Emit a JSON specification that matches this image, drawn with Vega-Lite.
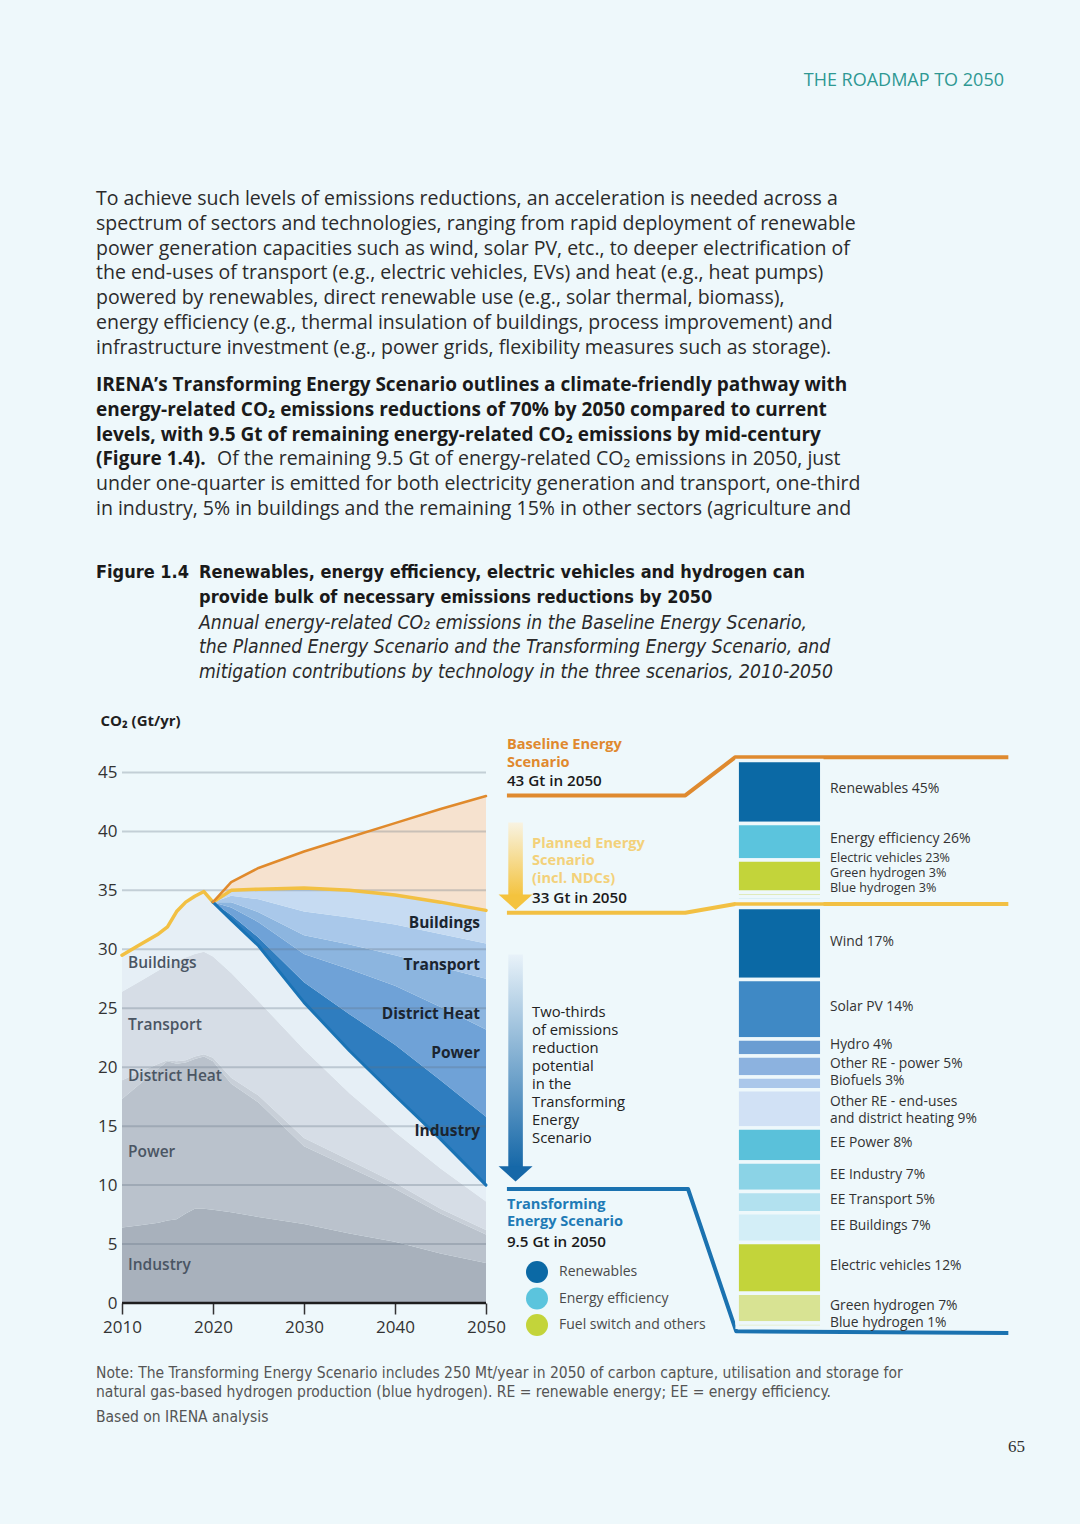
{
  "$schema": "https://vega.github.io/schema/vega-lite/v6.json",
  "width": 1080,
  "height": 1524,
  "autosize": {"type": "fit", "contains": "padding"},
  "padding": 0,
  "background": "#eef8fb",
  "config": {"view": {"stroke": null}, "font": "Open Sans", "axis": {"labelFont": "Open Sans", "titleFont": "Open Sans"}},
  "datasets": {
    "emis": [
      {"year":2010,"ind":6.4,"pow":10.9,"dh":1.6,"tra":7.5,"bld":3.1,"rind":0,"rpow":0,"rdh":0,"rtra":0,"rbld":0,"gap":0},
      {"year":2012,"ind":6.6,"pow":12.0,"dh":1.0,"tra":7.7,"bld":3.1,"rind":0,"rpow":0,"rdh":0,"rtra":0,"rbld":0,"gap":0},
      {"year":2014,"ind":6.8,"pow":13.1,"dh":0.4,"tra":7.9,"bld":3.1,"rind":0,"rpow":0,"rdh":0,"rtra":0,"rbld":0,"gap":0},
      {"year":2015,"ind":7.0,"pow":13.5,"dh":0.1,"tra":8.0,"bld":3.3,"rind":0,"rpow":0,"rdh":0,"rtra":0,"rbld":0,"gap":0},
      {"year":2016,"ind":7.1,"pow":13.2,"dh":0.2,"tra":8.5,"bld":4.2,"rind":0,"rpow":0,"rdh":0,"rtra":0,"rbld":0,"gap":0},
      {"year":2017,"ind":7.6,"pow":12.8,"dh":0.2,"tra":8.7,"bld":4.7,"rind":0,"rpow":0,"rdh":0,"rtra":0,"rbld":0,"gap":0},
      {"year":2018,"ind":8.0,"pow":12.7,"dh":0.2,"tra":8.7,"bld":4.9,"rind":0,"rpow":0,"rdh":0,"rtra":0,"rbld":0,"gap":0},
      {"year":2019,"ind":8.0,"pow":12.9,"dh":0.2,"tra":8.7,"bld":5.1,"rind":0,"rpow":0,"rdh":0,"rtra":0,"rbld":0,"gap":0},
      {"year":2020,"ind":7.9,"pow":12.6,"dh":0.3,"tra":8.6,"bld":4.6,"rind":0,"rpow":0,"rdh":0,"rtra":0,"rbld":0,"gap":0},
      {"year":2022,"ind":7.7,"pow":10.9,"dh":0.5,"tra":8.9,"bld":4.5,"rind":0.4,"rpow":0.65,"rdh":0.45,"rtra":0.55,"rbld":0.45,"gap":0.7},
      {"year":2025,"ind":7.3,"pow":9.7,"dh":0.6,"tra":8.0,"bld":4.7,"rind":0.7,"rpow":1.3,"rdh":0.85,"rtra":1.1,"rbld":0.85,"gap":1.8},
      {"year":2030,"ind":6.7,"pow":6.6,"dh":0.7,"tra":7.5,"bld":4.0,"rind":1.7,"rpow":2.4,"rdh":1.6,"rtra":2.0,"rbld":2.0,"gap":3.1},
      {"year":2035,"ind":5.9,"pow":5.6,"dh":0.6,"tra":5.7,"bld":3.6,"rind":3.1,"rpow":3.8,"rdh":2.1,"rtra":2.3,"rbld":2.3,"gap":4.5},
      {"year":2040,"ind":5.2,"pow":4.5,"dh":0.5,"tra":4.3,"bld":3.1,"rind":4.3,"rpow":5.0,"rdh":2.6,"rtra":2.6,"rbld":2.5,"gap":6.1},
      {"year":2045,"ind":4.2,"pow":3.4,"dh":0.4,"tra":3.4,"bld":2.5,"rind":5.0,"rpow":6.2,"rdh":3.4,"rtra":2.8,"rbld":2.7,"gap":7.9},
      {"year":2050,"ind":3.4,"pow":2.4,"dh":0.4,"tra":2.4,"bld":1.4,"rind":5.8,"rpow":7.4,"rdh":4.3,"rtra":3.0,"rbld":2.8,"gap":9.7}
    ],
    "lines": [
      {"s":"Planned","year":2010,"v":29.5},{"s":"Planned","year":2012,"v":30.4},{"s":"Planned","year":2014,"v":31.3},
      {"s":"Planned","year":2015,"v":31.9},{"s":"Planned","year":2016,"v":33.2},{"s":"Planned","year":2017,"v":34.0},
      {"s":"Planned","year":2018,"v":34.5},{"s":"Planned","year":2019,"v":34.9},{"s":"Planned","year":2020,"v":34.0},
      {"s":"Planned","year":2022,"v":35.0},{"s":"Planned","year":2025,"v":35.1},{"s":"Planned","year":2030,"v":35.2},
      {"s":"Planned","year":2035,"v":35.0},{"s":"Planned","year":2040,"v":34.6},{"s":"Planned","year":2045,"v":34.0},
      {"s":"Planned","year":2050,"v":33.3},
      {"s":"TES","year":2020,"v":34.0},{"s":"TES","year":2022,"v":32.5},{"s":"TES","year":2025,"v":30.3},
      {"s":"TES","year":2030,"v":25.5},{"s":"TES","year":2035,"v":21.4},{"s":"TES","year":2040,"v":17.6},
      {"s":"TES","year":2045,"v":13.9},{"s":"TES","year":2050,"v":10.0},
      {"s":"Baseline","year":2020,"v":34.0},{"s":"Baseline","year":2022,"v":35.7},{"s":"Baseline","year":2025,"v":36.9},
      {"s":"Baseline","year":2030,"v":38.3},{"s":"Baseline","year":2035,"v":39.5},{"s":"Baseline","year":2040,"v":40.7},
      {"s":"Baseline","year":2045,"v":41.9},{"s":"Baseline","year":2050,"v":43.0}
    ],
    "conn": [
      {"s":"Baseline","x":2052.3,"v":43.05},{"s":"Baseline","x":2071.9,"v":43.05},{"s":"Baseline","x":2077.4,"v":46.3},{"s":"Baseline","x":2107.4,"v":46.3},
      {"s":"Planned","x":2052.3,"v":33.1},{"s":"Planned","x":2071.9,"v":33.1},{"s":"Planned","x":2077.4,"v":33.85},{"s":"Planned","x":2107.4,"v":33.85},
      {"s":"TES","x":2052.3,"v":9.67},{"s":"TES","x":2072.2,"v":9.67},{"s":"TES","x":2077.5,"v":-2.4},{"s":"TES","x":2107.4,"v":-2.54}
    ],
    "grid": [{"g":5},{"g":10},{"g":15},{"g":20},{"g":25},{"g":30},{"g":35},{"g":40},{"g":45}],
    "arrows": [
      {"a":"Planned","x0":2052.45,"x1":2054.05,"top":40.75,"bot":34.5,"hx":2053.25,"hy":34.0},
      {"a":"TES","x0":2052.45,"x1":2054.05,"top":29.55,"bot":11.5,"hx":2053.25,"hy":10.95}
    ],
    "ann": [
      {"k":"name","s":"Baseline","t":["Baseline Energy","Scenario"],"x":2052.3,"v":47.35},
      {"k":"val","s":"Baseline","t":"43 Gt in 2050","x":2052.3,"v":44.26},
      {"k":"name","s":"Planned","t":["Planned Energy","Scenario","(incl. NDCs)"],"x":2055.06,"v":38.96},
      {"k":"val","s":"Planned","t":"33 Gt in 2050","x":2055.06,"v":34.33},
      {"k":"note","s":"TES","t":["Two-thirds","of emissions","reduction","potential","in the","Transforming","Energy","Scenario"],"x":2055.06,"v":24.62},
      {"k":"name","s":"TES","t":["Transforming","Energy Scenario"],"x":2052.3,"v":8.34},
      {"k":"val","s":"TES","t":"9.5 Gt in 2050","x":2052.3,"v":5.2}
    ],
    "alab": [
      {"side":"L","t":"Buildings","x":2010.66,"v":28.86},
      {"side":"L","t":"Transport","x":2010.66,"v":23.6},
      {"side":"L","t":"District Heat","x":2010.66,"v":19.28},
      {"side":"L","t":"Power","x":2010.66,"v":12.83},
      {"side":"L","t":"Industry","x":2010.66,"v":3.25},
      {"side":"R","t":"Buildings","x":2049.34,"v":32.26},
      {"side":"R","t":"Transport","x":2049.34,"v":28.69},
      {"side":"R","t":"District Heat","x":2049.34,"v":24.54},
      {"side":"R","t":"Power","x":2049.34,"v":21.23},
      {"side":"R","t":"Industry","x":2049.34,"v":14.61}
    ],
    "bars": [
      {"g":1,"name":"Renewables","pct":45,"lab":"Renewables 45%"},
      {"g":1,"name":"Energy efficiency","pct":26,"lab":"Energy efficiency 26%"},
      {"g":1,"name":"Electric vehicles","pct":23,"lab":"Electric vehicles 23%"},
      {"g":1,"name":"Green hydrogen","pct":3,"lab":"Green hydrogen 3%"},
      {"g":1,"name":"Blue hydrogen","pct":3,"lab":"Blue hydrogen 3%"},
      {"g":2,"name":"Wind","pct":17,"lab":"Wind 17%"},
      {"g":2,"name":"Solar PV","pct":14,"lab":"Solar PV 14%"},
      {"g":2,"name":"Hydro","pct":4,"lab":"Hydro 4%"},
      {"g":2,"name":"Other RE - power","pct":5,"lab":"Other RE - power 5%"},
      {"g":2,"name":"Biofuels","pct":3,"lab":"Biofuels 3%"},
      {"g":2,"name":"Other RE - end-uses and district heating","pct":9,"lab":["Other RE - end-uses","and district heating 9%"]},
      {"g":2,"name":"EE Power","pct":8,"lab":"EE Power 8%"},
      {"g":2,"name":"EE Industry","pct":7,"lab":"EE Industry 7%"},
      {"g":2,"name":"EE Transport","pct":5,"lab":"EE Transport 5%"},
      {"g":2,"name":"EE Buildings","pct":7,"lab":"EE Buildings 7%"},
      {"g":2,"name":"Electric vehicles","pct":12,"lab":"Electric vehicles 12%"},
      {"g":2,"name":"Green hydrogen","pct":7,"lab":"Green  hydrogen 7%"},
      {"g":2,"name":"Blue hydrogen","pct":1,"lab":"Blue hydrogen 1%"}
    ],
    "cats": [{"cat":"Renewables"},{"cat":"Energy efficiency"},{"cat":"Fuel switch and others"}],
    "txt": [
      {"b":"hdr","ln":-4.76,"t":"THE ROADMAP TO 2050"},
      {"b":"p","ln":0,"t":"To achieve such levels of emissions reductions, an acceleration is needed across a"},
      {"b":"p","ln":1,"t":"spectrum of sectors and technologies, ranging from rapid deployment of renewable"},
      {"b":"p","ln":2,"t":"power generation capacities such as wind, solar PV, etc., to deeper electrification of"},
      {"b":"p","ln":3,"t":"the end-uses of transport (e.g., electric vehicles, EVs) and heat (e.g., heat pumps)"},
      {"b":"p","ln":4,"t":"powered by renewables, direct renewable use (e.g., solar thermal, biomass),"},
      {"b":"p","ln":5,"t":"energy efficiency (e.g., thermal insulation of buildings, process improvement) and"},
      {"b":"p","ln":6,"t":"infrastructure investment (e.g., power grids, flexibility measures such as storage)."},
      {"b":"pb","ln":7.5,"t":"IRENA’s Transforming Energy Scenario outlines a climate-friendly pathway with"},
      {"b":"pb","ln":8.5,"t":"energy-related CO₂ emissions reductions of 70% by 2050 compared to current"},
      {"b":"pb","ln":9.5,"t":"levels, with 9.5 Gt of remaining energy-related CO₂ emissions by mid-century"},
      {"b":"pb","ln":10.5,"t":"(Figure 1.4)."},
      {"b":"pi","ln":10.5,"t":"Of the remaining 9.5 Gt of energy-related CO₂ emissions in 2050, just"},
      {"b":"p","ln":11.5,"t":"under one-quarter is emitted for both electricity generation and transport, one-third"},
      {"b":"p","ln":12.5,"t":"in industry, 5% in buildings and the remaining 15% in other sectors (agriculture and"},
      {"b":"fl","ln":15.08,"t":"Figure 1.4"},
      {"b":"ft","ln":15.08,"t":"Renewables, energy efficiency, electric vehicles and hydrogen can"},
      {"b":"ft","ln":16.09,"t":"provide bulk of necessary emissions reductions by 2050"},
      {"b":"fs","ln":17.1,"t":"Annual energy-related CO₂ emissions in the Baseline Energy Scenario,"},
      {"b":"fs","ln":18.06,"t":"the Planned Energy Scenario and the Transforming Energy Scenario, and"},
      {"b":"fs","ln":19.07,"t":"mitigation contributions by technology in the three scenarios, 2010-2050"},
      {"b":"n","ln":47.34,"t":"Note: The Transforming Energy Scenario includes 250 Mt/year in 2050 of carbon capture, utilisation and storage for"},
      {"b":"n","ln":48.1,"t":"natural gas-based hydrogen production (blue hydrogen). RE = renewable energy; EE = energy efficiency."},
      {"b":"n","ln":49.1,"t":"Based on IRENA analysis"},
      {"b":"pg","ln":50.32,"t":"65"}
    ]
  },
  "layer": [
    {
      "data": {"name": "txt"},
      "transform": [{"filter": "datum.b == 'hdr'"}],
      "mark": {"type": "text", "align": "right", "baseline": "middle", "font": "Open Sans", "fontSize": 18, "letterSpacing": 1, "color": "#2f9893"},
      "encoding": {
        "x": {"datum": 92.96, "type": "quantitative", "scale": {"domain": [0, 100], "nice": false, "zero": false}, "axis": null},
        "y": {"field": "ln", "type": "quantitative", "scale": {"domain": [-8.024, 53.428], "reverse": true, "nice": false, "zero": false}, "axis": null},
        "text": {"field": "t"}
      }
    },
    {
      "data": {"name": "txt"},
      "transform": [{"filter": "datum.b == 'p'"}],
      "mark": {"type": "text", "align": "left", "baseline": "middle", "font": "Open Sans", "fontSize": 19.5, "color": "#2b2b2b"},
      "encoding": {
        "x": {"datum": 8.889, "type": "quantitative", "scale": {"domain": [0, 100], "nice": false, "zero": false}, "axis": null},
        "y": {"field": "ln", "type": "quantitative", "scale": {"domain": [-8.024, 53.428], "reverse": true, "nice": false, "zero": false}, "axis": null},
        "text": {"field": "t"}
      }
    },
    {
      "data": {"name": "txt"},
      "transform": [{"filter": "datum.b == 'pb'"}],
      "mark": {"type": "text", "align": "left", "baseline": "middle", "font": "Open Sans", "fontWeight": "bold", "fontSize": 19, "color": "#1a1a1a"},
      "encoding": {
        "x": {"datum": 8.889, "type": "quantitative", "scale": {"domain": [0, 100], "nice": false, "zero": false}, "axis": null},
        "y": {"field": "ln", "type": "quantitative", "scale": {"domain": [-8.024, 53.428], "reverse": true, "nice": false, "zero": false}, "axis": null},
        "text": {"field": "t"}
      }
    },
    {
      "data": {"name": "txt"},
      "transform": [{"filter": "datum.b == 'pi'"}],
      "mark": {"type": "text", "align": "left", "baseline": "middle", "font": "Open Sans", "fontSize": 19.5, "color": "#2b2b2b"},
      "encoding": {
        "x": {"datum": 20.09, "type": "quantitative", "scale": {"domain": [0, 100], "nice": false, "zero": false}, "axis": null},
        "y": {"field": "ln", "type": "quantitative", "scale": {"domain": [-8.024, 53.428], "reverse": true, "nice": false, "zero": false}, "axis": null},
        "text": {"field": "t"}
      }
    },
    {
      "data": {"name": "txt"},
      "transform": [{"filter": "datum.b == 'fl'"}],
      "mark": {"type": "text", "align": "left", "baseline": "middle", "font": "Liberation Sans Narrow, DejaVu Sans Condensed, Roboto", "fontWeight": "bold", "fontSize": 18, "color": "#1a1a1a"},
      "encoding": {
        "x": {"datum": 8.889, "type": "quantitative", "scale": {"domain": [0, 100], "nice": false, "zero": false}, "axis": null},
        "y": {"field": "ln", "type": "quantitative", "scale": {"domain": [-8.024, 53.428], "reverse": true, "nice": false, "zero": false}, "axis": null},
        "text": {"field": "t"}
      }
    },
    {
      "data": {"name": "txt"},
      "transform": [{"filter": "datum.b == 'ft'"}],
      "mark": {"type": "text", "align": "left", "baseline": "middle", "font": "Liberation Sans Narrow, DejaVu Sans Condensed, Roboto", "fontWeight": "bold", "fontSize": 18, "color": "#1a1a1a"},
      "encoding": {
        "x": {"datum": 18.43, "type": "quantitative", "scale": {"domain": [0, 100], "nice": false, "zero": false}, "axis": null},
        "y": {"field": "ln", "type": "quantitative", "scale": {"domain": [-8.024, 53.428], "reverse": true, "nice": false, "zero": false}, "axis": null},
        "text": {"field": "t"}
      }
    },
    {
      "data": {"name": "txt"},
      "transform": [{"filter": "datum.b == 'fs'"}],
      "mark": {"type": "text", "align": "left", "baseline": "middle", "font": "Liberation Sans Narrow, DejaVu Sans Condensed, Roboto", "fontStyle": "italic", "fontSize": 19.2, "color": "#2a2a2a"},
      "encoding": {
        "x": {"datum": 18.43, "type": "quantitative", "scale": {"domain": [0, 100], "nice": false, "zero": false}, "axis": null},
        "y": {"field": "ln", "type": "quantitative", "scale": {"domain": [-8.024, 53.428], "reverse": true, "nice": false, "zero": false}, "axis": null},
        "text": {"field": "t"}
      }
    },
    {
      "data": {"name": "txt"},
      "transform": [{"filter": "datum.b == 'n'"}],
      "mark": {"type": "text", "align": "left", "baseline": "middle", "font": "Liberation Sans Narrow, DejaVu Sans Condensed, Roboto", "fontSize": 15.5, "color": "#555555"},
      "encoding": {
        "x": {"datum": 8.889, "type": "quantitative", "scale": {"domain": [0, 100], "nice": false, "zero": false}, "axis": null},
        "y": {"field": "ln", "type": "quantitative", "scale": {"domain": [-8.024, 53.428], "reverse": true, "nice": false, "zero": false}, "axis": null},
        "text": {"field": "t"}
      }
    },
    {
      "data": {"name": "txt"},
      "transform": [{"filter": "datum.b == 'pg'"}],
      "mark": {"type": "text", "align": "right", "baseline": "middle", "font": "Liberation Serif", "fontSize": 17, "color": "#333333"},
      "encoding": {
        "x": {"datum": 94.9, "type": "quantitative", "scale": {"domain": [0, 100], "nice": false, "zero": false}, "axis": null},
        "y": {"field": "ln", "type": "quantitative", "scale": {"domain": [-8.024, 53.428], "reverse": true, "nice": false, "zero": false}, "axis": null},
        "text": {"field": "t"}
      }
    },
    {
      "data": {"name": "emis"},
      "transform": [
        {"fold": ["ind","pow","dh","tra","bld","rind","rpow","rdh","rtra","rbld","gap"], "as": ["key","val"]},
        {"window": [{"op": "row_number", "as": "rank"}], "groupby": ["year"]},
        {"stack": "val", "groupby": ["year"], "sort": [{"field": "rank", "order": "ascending"}], "as": ["v0","v1"]}
      ],
      "mark": {"type": "area", "interpolate": "linear"},
      "encoding": {
        "x": {"field": "year", "type": "quantitative", "scale": {"domain": [1996.593, 2115.275], "nice": false, "zero": false}, "axis": null},
        "y": {"field": "v1", "type": "quantitative", "scale": {"domain": [-18.745, 110.52], "nice": false, "zero": false}, "axis": null},
        "y2": {"field": "v0"},
        "color": {"field": "key", "type": "nominal", "legend": null,
          "scale": {"domain": ["ind","pow","dh","tra","bld","rind","rpow","rdh","rtra","rbld","gap"],
                    "range": ["#a8b1bc","#bac2cc","#c8cfd8","#d6dde6","#e6eff6","#2f7dbf","#6fa2d7","#8cb5df","#a9c8ea","#c6dbf2","#f6e2cf"]}}
      }
    },
    {
      "data": {"name": "grid"},
      "mark": {"type": "rule", "stroke": "#5f7282", "strokeOpacity": 0.3, "strokeWidth": 2},
      "encoding": {
        "x": {"datum": 2010, "type": "quantitative", "scale": {"domain": [1996.593, 2115.275], "nice": false, "zero": false}, "axis": null},
        "x2": {"datum": 2050},
        "y": {"field": "g", "type": "quantitative", "scale": {"domain": [-18.745, 110.52], "nice": false, "zero": false}, "axis": null}
      }
    },
    {
      "data": {"values": [{"g": 0}]},
      "mark": {"type": "rule", "stroke": "#1e1e1e", "strokeWidth": 2.5},
      "encoding": {
        "x": {"datum": 2010, "type": "quantitative", "scale": {"domain": [1996.593, 2115.275], "nice": false, "zero": false}, "axis": null},
        "x2": {"datum": 2050},
        "y": {"field": "g", "type": "quantitative", "scale": {"domain": [-18.745, 110.52], "nice": false, "zero": false}, "axis": null}
      }
    },
    {
      "data": {"name": "lines"},
      "mark": {"type": "line", "strokeJoin": "round", "strokeCap": "round"},
      "encoding": {
        "x": {"field": "year", "type": "quantitative", "scale": {"domain": [1996.593, 2115.275], "nice": false, "zero": false},
          "axis": {"orient": "bottom", "offset": -221, "values": [2010, 2020, 2030, 2040, 2050], "format": "d", "domain": false, "grid": false,
                   "ticks": true, "tickSize": 11, "tickColor": "#333333", "tickWidth": 1.5, "labelFontSize": 17, "labelColor": "#333333",
                   "labelPadding": 5, "title": null}},
        "y": {"field": "v", "type": "quantitative", "scale": {"domain": [-18.745, 110.52], "nice": false, "zero": false},
          "axis": {"orient": "left", "offset": -122, "values": [0, 5, 10, 15, 20, 25, 30, 35, 40, 45], "domain": false, "ticks": false, "grid": false,
                   "labelFontSize": 17, "labelColor": "#333333", "labelPadding": 5,
                   "title": "CO₂ (Gt/yr)", "titleAngle": 0, "titleAlign": "left", "titleBaseline": "middle", "titleX": -22, "titleY": 720,
                   "titleFontSize": 15, "titleFontWeight": "bold", "titleColor": "#1f1f1f"}},
        "color": {"field": "s", "type": "nominal", "legend": null, "scale": {"domain": ["Planned","TES","Baseline"], "range": ["#f2c043","#1a73b5","#e08a2c"]}},
        "strokeWidth": {"field": "s", "type": "nominal", "legend": null, "scale": {"domain": ["Planned","TES","Baseline"], "range": [3.5, 2.5, 4]}}
      }
    },
    {
      "data": {"name": "conn"},
      "mark": {"type": "line", "strokeWidth": 4, "strokeJoin": "round", "strokeCap": "butt"},
      "encoding": {
        "x": {"field": "x", "type": "quantitative", "scale": {"domain": [1996.593, 2115.275], "nice": false, "zero": false}, "axis": null},
        "y": {"field": "v", "type": "quantitative", "scale": {"domain": [-18.745, 110.52], "nice": false, "zero": false}, "axis": null},
        "color": {"field": "s", "type": "nominal", "legend": null, "scale": {"domain": ["Planned","TES","Baseline"], "range": ["#f2c043","#1a72b0","#df8a2f"]}}
      }
    },
    {
      "data": {"name": "arrows"},
      "transform": [{"filter": "datum.a == 'Planned'"}],
      "mark": {"type": "rect", "fill": {"gradient": "linear", "x1": 0, "y1": 0, "x2": 0, "y2": 1, "stops": [{"offset": 0, "color": "#f8f3e2"}, {"offset": 1, "color": "#f4c33e"}]}},
      "encoding": {
        "x": {"field": "x0", "type": "quantitative", "scale": {"domain": [1996.593, 2115.275], "nice": false, "zero": false}, "axis": null},
        "x2": {"field": "x1"},
        "y": {"field": "top", "type": "quantitative", "scale": {"domain": [-18.745, 110.52], "nice": false, "zero": false}, "axis": null},
        "y2": {"field": "bot"}
      }
    },
    {
      "data": {"name": "arrows"},
      "transform": [{"filter": "datum.a == 'TES'"}],
      "mark": {"type": "rect", "fill": {"gradient": "linear", "x1": 0, "y1": 0, "x2": 0, "y2": 1, "stops": [{"offset": 0, "color": "#e8f2f9"}, {"offset": 1, "color": "#1668a8"}]}},
      "encoding": {
        "x": {"field": "x0", "type": "quantitative", "scale": {"domain": [1996.593, 2115.275], "nice": false, "zero": false}, "axis": null},
        "x2": {"field": "x1"},
        "y": {"field": "top", "type": "quantitative", "scale": {"domain": [-18.745, 110.52], "nice": false, "zero": false}, "axis": null},
        "y2": {"field": "bot"}
      }
    },
    {
      "data": {"name": "arrows"},
      "mark": {"type": "point", "shape": "M-1,-0.45L1,-0.45L0,0.45Z", "size": 1156, "filled": true, "opacity": 1, "strokeWidth": 0},
      "encoding": {
        "x": {"field": "hx", "type": "quantitative", "scale": {"domain": [1996.593, 2115.275], "nice": false, "zero": false}, "axis": null},
        "y": {"field": "hy", "type": "quantitative", "scale": {"domain": [-18.745, 110.52], "nice": false, "zero": false}, "axis": null},
        "color": {"field": "a", "type": "nominal", "legend": null, "scale": {"domain": ["Planned","TES"], "range": ["#f4c33e","#1668a8"]}}
      }
    },
    {
      "data": {"name": "ann"},
      "transform": [{"filter": "datum.k == 'name'"}],
      "mark": {"type": "text", "align": "left", "baseline": "middle", "font": "Open Sans", "fontWeight": "bold", "fontSize": 14.6, "lineHeight": 17.8},
      "encoding": {
        "x": {"field": "x", "type": "quantitative", "scale": {"domain": [1996.593, 2115.275], "nice": false, "zero": false}, "axis": null},
        "y": {"field": "v", "type": "quantitative", "scale": {"domain": [-18.745, 110.52], "nice": false, "zero": false}, "axis": null},
        "text": {"field": "t"},
        "color": {"field": "s", "type": "nominal", "legend": null, "scale": {"domain": ["Baseline","Planned","TES"], "range": ["#e0892e","#f3d17a","#1f7bb6"]}}
      }
    },
    {
      "data": {"name": "ann"},
      "transform": [{"filter": "datum.k == 'val'"}],
      "mark": {"type": "text", "align": "left", "baseline": "middle", "font": "Open Sans", "fontWeight": 600, "fontSize": 15.2, "color": "#1a1a1a"},
      "encoding": {
        "x": {"field": "x", "type": "quantitative", "scale": {"domain": [1996.593, 2115.275], "nice": false, "zero": false}, "axis": null},
        "y": {"field": "v", "type": "quantitative", "scale": {"domain": [-18.745, 110.52], "nice": false, "zero": false}, "axis": null},
        "text": {"field": "t"}
      }
    },
    {
      "data": {"name": "ann"},
      "transform": [{"filter": "datum.k == 'note'"}],
      "mark": {"type": "text", "align": "left", "baseline": "middle", "font": "Open Sans", "fontSize": 14.8, "lineHeight": 18, "color": "#222222"},
      "encoding": {
        "x": {"field": "x", "type": "quantitative", "scale": {"domain": [1996.593, 2115.275], "nice": false, "zero": false}, "axis": null},
        "y": {"field": "v", "type": "quantitative", "scale": {"domain": [-18.745, 110.52], "nice": false, "zero": false}, "axis": null},
        "text": {"field": "t"}
      }
    },
    {
      "data": {"name": "alab"},
      "transform": [{"filter": "datum.side == 'L'"}],
      "mark": {"type": "text", "align": "left", "baseline": "middle", "font": "Open Sans", "fontWeight": 600, "fontSize": 15.5, "color": "#4a5563"},
      "encoding": {
        "x": {"field": "x", "type": "quantitative", "scale": {"domain": [1996.593, 2115.275], "nice": false, "zero": false}, "axis": null},
        "y": {"field": "v", "type": "quantitative", "scale": {"domain": [-18.745, 110.52], "nice": false, "zero": false}, "axis": null},
        "text": {"field": "t"}
      }
    },
    {
      "data": {"name": "alab"},
      "transform": [{"filter": "datum.side == 'R'"}],
      "mark": {"type": "text", "align": "right", "baseline": "middle", "font": "Open Sans", "fontWeight": "bold", "fontSize": 15.5, "color": "#1b2530"},
      "encoding": {
        "x": {"field": "x", "type": "quantitative", "scale": {"domain": [1996.593, 2115.275], "nice": false, "zero": false}, "axis": null},
        "y": {"field": "v", "type": "quantitative", "scale": {"domain": [-18.745, 110.52], "nice": false, "zero": false}, "axis": null},
        "text": {"field": "t"}
      }
    },
    {
      "data": {"name": "bars"},
      "transform": [
        {"filter": "datum.g == 1"},
        {"window": [{"op": "row_number", "as": "i"}]},
        {"stack": "pct", "groupby": ["g"], "sort": [{"field": "i", "order": "ascending"}], "as": ["s0","s1"]}
      ],
      "mark": {"type": "rect", "stroke": "#eef8fb", "strokeWidth": 3.5},
      "encoding": {
        "x": {"datum": 2077.6, "type": "quantitative", "scale": {"domain": [1996.593, 2115.275], "nice": false, "zero": false}, "axis": null},
        "x2": {"datum": 2086.9},
        "y": {"field": "s0", "type": "quantitative", "scale": {"domain": [-543.286, 545.286], "reverse": true, "nice": false, "zero": false}, "axis": null},
        "y2": {"field": "s1"},
        "color": {"field": "name", "type": "nominal", "legend": null,
          "scale": {"domain": ["Renewables","Energy efficiency","Electric vehicles","Green hydrogen","Blue hydrogen"],
                    "range": ["#0b69a5","#5bc4dd","#c3d43a","#d5e08a","#c9e6ee"]}}
      }
    },
    {
      "data": {"name": "bars"},
      "transform": [
        {"filter": "datum.g == 1"},
        {"window": [{"op": "row_number", "as": "i"}]},
        {"stack": "pct", "groupby": ["g"], "sort": [{"field": "i", "order": "ascending"}], "as": ["s0","s1"]},
        {"filter": "datum.i <= 2"},
        {"fold": ["s0","s1"], "as": ["k","sv"]},
        {"joinaggregate": [{"op": "mean", "field": "sv", "as": "mid"}], "groupby": ["name"]},
        {"filter": "datum.k == 's0'"}
      ],
      "mark": {"type": "text", "align": "left", "baseline": "middle", "font": "Open Sans", "fontSize": 14, "color": "#333333", "dy": -3},
      "encoding": {
        "x": {"datum": 2087.8, "type": "quantitative", "scale": {"domain": [1996.593, 2115.275], "nice": false, "zero": false}, "axis": null},
        "y": {"field": "mid", "type": "quantitative", "scale": {"domain": [-543.286, 545.286], "reverse": true, "nice": false, "zero": false}, "axis": null},
        "text": {"field": "lab"}
      }
    },
    {
      "data": {"name": "bars"},
      "transform": [
        {"filter": "datum.g == 1"},
        {"window": [{"op": "row_number", "as": "i"}]},
        {"filter": "datum.i >= 3"}
      ],
      "mark": {"type": "text", "align": "left", "baseline": "middle", "font": "Open Sans", "fontSize": 12.6, "color": "#333333"},
      "encoding": {
        "x": {"datum": 2087.8, "type": "quantitative", "scale": {"domain": [1996.593, 2115.275], "nice": false, "zero": false}, "axis": null},
        "y": {"field": "i", "type": "quantitative", "scale": {"domain": [-54.2, 47.4], "reverse": true, "nice": false, "zero": false}, "axis": null},
        "text": {"field": "lab"}
      }
    },
    {
      "data": {"name": "bars"},
      "transform": [
        {"filter": "datum.g == 2"},
        {"window": [{"op": "row_number", "as": "i"}]},
        {"stack": "pct", "groupby": ["g"], "sort": [{"field": "i", "order": "ascending"}], "as": ["s0","s1"]}
      ],
      "mark": {"type": "rect", "stroke": "#eef8fb", "strokeWidth": 3.5},
      "encoding": {
        "x": {"datum": 2077.6, "type": "quantitative", "scale": {"domain": [1996.593, 2115.275], "nice": false, "zero": false}, "axis": null},
        "x2": {"datum": 2086.9},
        "y": {"field": "s0", "type": "quantitative", "scale": {"domain": [-214.033, 145.401], "reverse": true, "nice": false, "zero": false}, "axis": null},
        "y2": {"field": "s1"},
        "color": {"field": "name", "type": "nominal", "legend": null,
          "scale": {"domain": ["Wind","Solar PV","Hydro","Other RE - power","Biofuels","Other RE - end-uses and district heating","EE Power","EE Industry","EE Transport","EE Buildings","Electric vehicles","Green hydrogen","Blue hydrogen"],
                    "range": ["#0b69a5","#3f89c5","#6a9dd2","#8cb2df","#aac7ea","#d1e1f5","#5ac1da","#8bd3e6","#b2e1ef","#d3eef7","#c3d43a","#d8e393","#e2ecc5"]}}
      }
    },
    {
      "data": {"name": "bars"},
      "transform": [
        {"filter": "datum.g == 2"},
        {"window": [{"op": "row_number", "as": "i"}]},
        {"stack": "pct", "groupby": ["g"], "sort": [{"field": "i", "order": "ascending"}], "as": ["s0","s1"]},
        {"fold": ["s0","s1"], "as": ["k","sv"]},
        {"joinaggregate": [{"op": "mean", "field": "sv", "as": "mid"}], "groupby": ["name"]},
        {"filter": "datum.k == 's0' && !isArray(datum.lab)"}
      ],
      "mark": {"type": "text", "align": "left", "baseline": "middle", "font": "Open Sans", "fontSize": 13.8, "color": "#333333", "dy": -2},
      "encoding": {
        "x": {"datum": 2087.8, "type": "quantitative", "scale": {"domain": [1996.593, 2115.275], "nice": false, "zero": false}, "axis": null},
        "y": {"field": "mid", "type": "quantitative", "scale": {"domain": [-214.033, 145.401], "reverse": true, "nice": false, "zero": false}, "axis": null},
        "text": {"field": "lab"}
      }
    },
    {
      "data": {"name": "bars"},
      "transform": [
        {"filter": "datum.g == 2"},
        {"window": [{"op": "row_number", "as": "i"}]},
        {"stack": "pct", "groupby": ["g"], "sort": [{"field": "i", "order": "ascending"}], "as": ["s0","s1"]},
        {"fold": ["s0","s1"], "as": ["k","sv"]},
        {"joinaggregate": [{"op": "mean", "field": "sv", "as": "mid"}], "groupby": ["name"]},
        {"filter": "datum.k == 's0' && isArray(datum.lab)"}
      ],
      "mark": {"type": "text", "align": "left", "baseline": "bottom", "font": "Open Sans", "fontSize": 13.8, "lineHeight": 17, "color": "#333333"},
      "encoding": {
        "x": {"datum": 2087.8, "type": "quantitative", "scale": {"domain": [1996.593, 2115.275], "nice": false, "zero": false}, "axis": null},
        "y": {"field": "mid", "type": "quantitative", "scale": {"domain": [-214.033, 145.401], "reverse": true, "nice": false, "zero": false}, "axis": null},
        "text": {"field": "lab"}
      }
    },
    {
      "data": {"name": "cats"},
      "mark": {"type": "point", "filled": true, "opacity": 0},
      "encoding": {
        "color": {"field": "cat", "type": "nominal",
          "scale": {"domain": ["Renewables","Energy efficiency","Fuel switch and others"], "range": ["#0b69a5","#5bc4dd","#c3d43a"]},
          "legend": {"orient": "none", "legendX": 526, "legendY": 1261, "title": null, "symbolType": "circle", "symbolSize": 484,
                     "symbolOpacity": 1, "symbolStrokeWidth": 0, "labelFontSize": 14, "labelColor": "#4a4a4a", "labelFont": "Open Sans",
                     "labelOffset": 11, "rowPadding": 4.5, "padding": 0, "offset": 0}}
      }
    }
  ],
  "resolve": {"scale": {"x": "independent", "y": "independent", "color": "independent", "strokeWidth": "independent"}, "legend": {"color": "independent"}}
}
